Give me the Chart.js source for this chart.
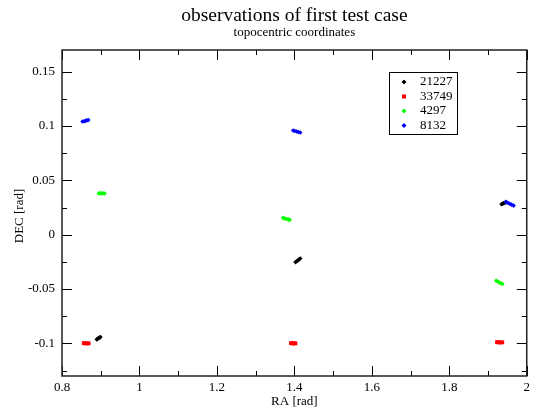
<!DOCTYPE html>
<html>
<head>
<meta charset="utf-8">
<script src="https://cdn.jsdelivr.net/npm/chart.js@4.4.1/dist/chart.umd.min.js"></script>
<style>
  html, body { margin: 0; padding: 0; background: #fff; }
</style>
</head>
<body>
<canvas id="chart" width="534" height="409"></canvas>
<script>
// ─── Data ────────────────────────────────────────────────────────────

const RA_21227 = [0.890, 0.892, 0.894, 0.897, 0.899, 1.403, 1.406, 1.409, 1.412, 1.415, 1.935, 1.938, 1.941, 1.944, 1.947];
const DEC_21227 = [-0.0963, -0.0958, -0.0953, -0.0947, -0.0942, -0.0252, -0.0244, -0.0236, -0.0227, -0.0219, 0.0281, 0.0286, 0.0291, 0.0295, 0.0300];

const RA_33749 = [0.856, 0.859, 0.862, 0.866, 0.869, 1.391, 1.394, 1.397, 1.400, 1.403, 1.923, 1.926, 1.930, 1.933, 1.937];
const DEC_33749 = [-0.0998, -0.0999, -0.0999, -0.1000, -0.0999, -0.0998, -0.0999, -0.0999, -0.1000, -0.0999, -0.0989, -0.0990, -0.0990, -0.0991, -0.0990];

const RA_4297 = [0.895, 0.899, 0.902, 0.906, 0.910, 1.371, 1.375, 1.379, 1.384, 1.388, 1.921, 1.925, 1.929, 1.933, 1.937];
const DEC_4297 = [0.0381, 0.0382, 0.0380, 0.0381, 0.0380, 0.0155, 0.0150, 0.0146, 0.0141, 0.0137, -0.0423, -0.0431, -0.0439, -0.0447, -0.0454];

const RA_8132 = [0.853, 0.857, 0.861, 0.864, 0.868, 1.397, 1.401, 1.406, 1.410, 1.415, 1.946, 1.951, 1.956, 1.961, 1.966];
const DEC_8132 = [0.1042, 0.1045, 0.1049, 0.1052, 0.1056, 0.0959, 0.0954, 0.0950, 0.0946, 0.0941, 0.0302, 0.0294, 0.0285, 0.0277, 0.0268];

const SERIES_NAMES = ['21227', '33749', '4297', '8132'];
const SERIES_COLORS = ['#000000', '#ff0000', '#00ff00', '#0000ff'];

const X_RANGE = [0.8, 2];
const Y_RANGE = [-0.13, 0.17];
const X_TICKS = [0.8, 1, 1.2, 1.4, 1.6, 1.8, 2];
const Y_TICKS = [-0.1, -0.05, 0, 0.05, 0.1, 0.15];

const TITLE = 'observations of first test case';
const SUBTITLE = 'topocentric coordinates';
const X_LABEL = 'RA [rad]';
const Y_LABEL = 'DEC [rad]';

const SERIF = '"Liberation Serif", "DejaVu Serif", serif';

// ─── Helpers ─────────────────────────────────────────────────────────

function toPoints(xs, ys) {
  return xs.map((x, i) => ({ x, y: ys[i] }));
}

function fmtTick(v) {
  return String(Math.round(v * 1000) / 1000);
}

// half-step minors between (and just outside) the major ticks
function minorValues(scale) {
  const vals = scale.ticks.map(t => t.value);
  if (vals.length < 2) return [];
  const step = vals[1] - vals[0];
  const out = [];
  for (let v = vals[0] - step / 2; v <= scale.max + 1e-9; v += step) {
    if (v >= scale.min - 1e-9) out.push(v);
  }
  return out;
}

// ─── Frame, inward ticks, titles, legend ─────────────────────────────

const gracePlugin = {
  id: 'grace',
  afterDraw(chart) {
    const { ctx, chartArea: a, scales } = chart;
    const xs = scales.x, ys = scales.y;
    const MAJOR = 10, MINOR = 5;

    ctx.save();
    ctx.strokeStyle = '#000';
    ctx.lineWidth = 1;

    ctx.beginPath();
    for (const t of xs.ticks) {
      const px = Math.round(xs.getPixelForValue(t.value)) + 0.5;
      ctx.moveTo(px, a.bottom); ctx.lineTo(px, a.bottom - MAJOR);
      ctx.moveTo(px, a.top); ctx.lineTo(px, a.top + MAJOR);
    }
    for (const v of minorValues(xs)) {
      const px = Math.round(xs.getPixelForValue(v)) + 0.5;
      ctx.moveTo(px, a.bottom); ctx.lineTo(px, a.bottom - MINOR);
      ctx.moveTo(px, a.top); ctx.lineTo(px, a.top + MINOR);
    }
    for (const t of ys.ticks) {
      const py = Math.round(ys.getPixelForValue(t.value)) + 0.5;
      ctx.moveTo(a.left, py); ctx.lineTo(a.left + MAJOR, py);
      ctx.moveTo(a.right, py); ctx.lineTo(a.right - MAJOR, py);
    }
    for (const v of minorValues(ys)) {
      const py = Math.round(ys.getPixelForValue(v)) + 0.5;
      ctx.moveTo(a.left, py); ctx.lineTo(a.left + MINOR, py);
      ctx.moveTo(a.right, py); ctx.lineTo(a.right - MINOR, py);
    }
    ctx.stroke();

    // frame
    ctx.lineWidth = 1.5;
    ctx.strokeStyle = '#222';
    ctx.strokeRect(a.left, a.top, a.right - a.left, a.bottom - a.top);

    // titles
    const cx = (a.left + a.right) / 2;
    ctx.fillStyle = '#000';
    ctx.textAlign = 'center';
    ctx.textBaseline = 'middle';
    ctx.font = '19.5px ' + SERIF;
    ctx.fillText(TITLE, cx, 16);
    ctx.font = '13px ' + SERIF;
    ctx.fillText(SUBTITLE, cx, 33);
    ctx.fillText(X_LABEL, cx, 402);

    ctx.save();
    ctx.translate(20, (a.top + a.bottom) / 2 + 3);
    ctx.rotate(-Math.PI / 2);
    ctx.fillText(Y_LABEL, 0, 0);
    ctx.restore();

    // legend box
    const lx = 389.5, ly = 72.5, lw = 68, lh = 62;
    ctx.lineWidth = 1;
    ctx.strokeStyle = '#000';
    ctx.strokeRect(lx, ly, lw, lh);
    ctx.textAlign = 'left';
    chart.data.datasets.forEach((ds, i) => {
      const y = 82 + i * 14.5;
      ctx.fillStyle = ds.backgroundColor;
      Chart.helpers.drawPoint(ctx, {
        pointStyle: ds.pointStyle,
        radius: ds.pointRadius,
        rotation: 0,
        borderWidth: 0,
      }, 404, y);
      ctx.fill();
      ctx.fillStyle = '#000';
      ctx.fillText(ds.label, 420, y);
    });

    ctx.restore();
  },
};

// ─── Chart ───────────────────────────────────────────────────────────

function makeDataset(i, xs, ys) {
  return {
    label: SERIES_NAMES[i],
    data: toPoints(xs, ys),
    backgroundColor: SERIES_COLORS[i],
    borderColor: SERIES_COLORS[i],
    borderWidth: 0,
    pointStyle: i === 1 ? 'rect' : 'rectRot',
    pointRadius: i === 1 ? 2.6 : 2.3,
    showLine: false,
    order: 4 - i,
  };
}

const tickFont = { family: SERIF, size: 13 };

new Chart(document.getElementById('chart').getContext('2d'), {
  type: 'scatter',
  data: {
    datasets: [
      makeDataset(0, RA_21227, DEC_21227),
      makeDataset(1, RA_33749, DEC_33749),
      makeDataset(2, RA_4297, DEC_4297),
      makeDataset(3, RA_8132, DEC_8132),
    ],
  },
  options: {
    responsive: false,
    animation: false,
    events: [],
    layout: { padding: { top: 50, right: 4, left: 0, bottom: 0 } },
    plugins: {
      legend: { display: false },
      tooltip: { enabled: false },
    },
    scales: {
      x: {
        type: 'linear',
        min: X_RANGE[0],
        max: X_RANGE[1],
        grid: { display: false, drawTicks: false },
        border: { display: false },
        ticks: { padding: 4, color: '#000', font: tickFont, callback: fmtTick },
        afterBuildTicks(scale) { scale.ticks = X_TICKS.map(value => ({ value })); },
        afterFit(scale) { scale.height = 33; },
      },
      y: {
        type: 'linear',
        min: Y_RANGE[0],
        max: Y_RANGE[1],
        grid: { display: false, drawTicks: false },
        border: { display: false },
        ticks: { padding: 7, color: '#000', font: tickFont, callback: fmtTick },
        afterBuildTicks(scale) { scale.ticks = Y_TICKS.map(value => ({ value })); },
        afterFit(scale) { scale.width = 62; },
      },
    },
  },
  plugins: [gracePlugin],
});
</script>
</body>
</html>
